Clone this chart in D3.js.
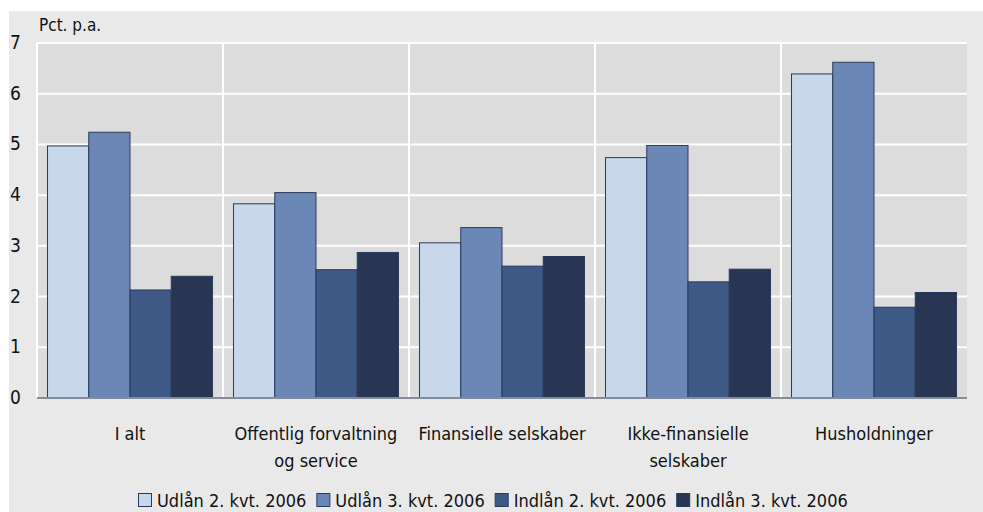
<!DOCTYPE html>
<html>
<head>
<meta charset="utf-8">
<script src="https://cdn.jsdelivr.net/npm/d3@7"></script>
<style>
  body { margin: 0; background: #fff; }
  text { font-family: "Liberation Sans Narrow", "DejaVu Sans Condensed", sans-serif; fill: #111; }
</style>
</head>
<body>
<svg id="chart" width="983" height="512"></svg>
<script>
// data
var categories = [["I alt"], ["Offentlig forvaltning", "og service"], ["Finansielle selskaber"], ["Ikke-finansielle", "selskaber"], ["Husholdninger"]];
var seriesNames = ["Udlån 2. kvt. 2006", "Udlån 3. kvt. 2006", "Indlån 2. kvt. 2006", "Indlån 3. kvt. 2006"];
var udlan2 = [4.97, 3.83, 3.06, 4.74, 6.39];
var udlan3 = [5.24, 4.05, 3.36, 4.98, 6.62];
var indlan2 = [2.13, 2.53, 2.60, 2.29, 1.79];
var indlan3 = [2.40, 2.87, 2.79, 2.54, 2.08];
var yTicks = [0, 1, 2, 3, 4, 5, 6, 7];
var colors = ["#c8d7ea", "#6b87b5", "#3f5986", "#283654"];

var series = [udlan2, udlan3, indlan2, indlan3];
var svg = d3.select('#chart');

// plot area edges
var pLeft = 37, pRight = 967, pTop = 43, pBottom = 398;

// outer panel
svg.append('rect').attr('x', 9).attr('y', 11).attr('width', 974).attr('height', 501).attr('fill', '#e9e9e9');
svg.append('rect').attr('x', pLeft).attr('y', pTop).attr('width', pRight - pLeft).attr('height', pBottom - pTop).attr('fill', '#dcdcdc');

var x0 = d3.scaleBand().domain(d3.range(categories.length)).range([pLeft, pRight]);
var x1 = d3.scaleBand().domain(d3.range(series.length)).range([0, x0.bandwidth()]).paddingOuter(0.255).paddingInner(0);
var y = d3.scaleLinear().domain([0, 7]).range([pBottom, pTop]);

// grid
svg.append('g').selectAll('line').data(yTicks.slice(1)).join('line')
  .attr('x1', pLeft).attr('x2', pRight)
  .attr('y1', function(d) { return y(d); }).attr('y2', function(d) { return y(d); })
  .attr('stroke', '#fff').attr('stroke-width', 2);
svg.append('g').selectAll('line').data(d3.range(0, categories.length)).join('line')
  .attr('x1', function(d) { return x0(d); }).attr('x2', function(d) { return x0(d); })
  .attr('y1', pTop).attr('y2', pBottom)
  .attr('stroke', '#fff').attr('stroke-width', 2);

// bars
var groups = svg.append('g').selectAll('g').data(categories).join('g')
  .attr('transform', function(d, i) { return 'translate(' + x0(i) + ',0)'; });
groups.selectAll('rect').data(function(d, i) { return series.map(function(s) { return s[i]; }); }).join('rect')
  .attr('x', function(d, j) { return x1(j); })
  .attr('y', function(d) { return y(d); })
  .attr('width', x1.bandwidth())
  .attr('height', function(d) { return pBottom - y(d); })
  .attr('fill', function(d, j) { return colors[j]; })
  .attr('stroke', '#2b3a5c').attr('stroke-width', 1);

// baseline
svg.append('line').attr('x1', pLeft).attr('x2', pRight).attr('y1', pBottom).attr('y2', pBottom).attr('stroke', '#858c99').attr('stroke-width', 2);

// y labels
svg.append('g').selectAll('text').data(yTicks).join('text')
  .attr('x', 10).attr('y', function(d) { return y(d) + 6; })
  .attr('font-size', 19).text(function(d) { return d; });
svg.append('text').attr('x', 39).attr('y', 31).attr('font-size', 17).text('Pct. p.a.');

// category labels
var cl = svg.append('g').selectAll('text').data(categories).join('text')
  .attr('text-anchor', 'middle').attr('font-size', 18)
  .attr('x', function(d, i) { return x0(i) + x0.bandwidth() / 2; })
  .attr('y', 440);
cl.selectAll('tspan').data(function(d) { return d; }).join('tspan')
  .attr('x', function() { return this.parentNode.getAttribute('x'); })
  .attr('dy', function(d, i) { return i === 0 ? 0 : 27; })
  .text(function(d) { return d; });

// legend
var legend = svg.append('g');
var lx = 138;
seriesNames.forEach(function(name, i) {
  var g = legend.append('g').attr('transform', 'translate(' + lx + ',0)');
  g.append('rect').attr('x', 0.5).attr('y', 493.5).attr('width', 13).attr('height', 13)
    .attr('fill', colors[i]).attr('stroke', '#2b3a5c').attr('stroke-width', 1);
  var t = g.append('text').attr('x', 19).attr('y', 507).attr('font-size', 18).text(name);
  lx += 19 + t.node().getComputedTextLength() + 10;
});
</script>
</body>
</html>
